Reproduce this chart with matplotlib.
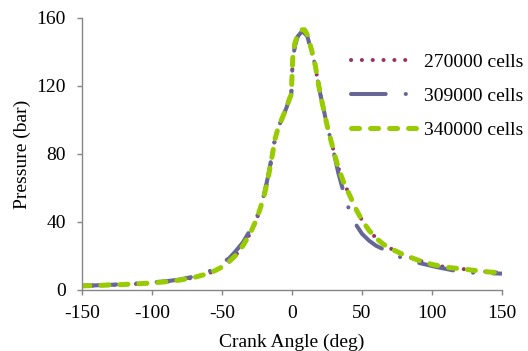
import matplotlib
matplotlib.use("Agg")
import matplotlib.pyplot as plt

# 270000 cells
ang_270 = [-150, -140, -130, -120, -110, -100, -90, -80, -70, -60, -55, -50, -45, -40, -35,
           -30, -25, -20, -17, -15, -12, -10, -7, -4, -2, -0.5, 0, 0.5, 2, 4, 7, 9, 11,
           13, 16, 20, 25, 29, 33, 37, 41, 46, 50, 55, 60, 65, 70, 80, 90, 100, 110,
           120, 130, 140, 150]
p_270 = [2.4, 2.6, 2.9, 3.2, 3.6, 4.1, 4.8, 5.8, 7.3, 9.6, 11.3, 13.5, 16.5, 20.5, 26,
         33, 42, 55, 66, 75, 89, 95, 101, 107, 112, 115, 125, 135, 143, 149, 152, 151, 149,
         143, 134, 116, 97, 84, 72, 63, 56, 47, 41, 35, 30.5, 27, 24.5, 20.5, 17.5, 15, 13.3,
         12.5, 11.5, 10.6, 10]

# 309000 cells
ang_309 = [-150, -140, -130, -120, -110, -100, -90, -80, -70, -60, -55, -50, -45, -40, -35,
           -30, -25, -20, -17, -15, -12, -10, -7, -4, -2, -0.5, 0, 0.5, 2, 4, 7, 9, 11,
           13, 16, 20, 25, 29, 33, 37, 40, 46, 50, 55, 60, 65, 70, 77, 90, 103, 115,
           127, 140, 150]
p_309 = [2.5, 2.7, 3.0, 3.4, 3.9, 4.4, 5.1, 6.1, 7.9, 10.5, 13, 16, 18.5, 23, 28,
         35, 43, 56, 67, 76, 90, 95, 101, 107, 112, 115, 125, 135, 143, 149, 152, 151, 149,
         143, 134, 116, 97, 84, 69, 57, 49, 38, 33, 29, 26, 24, 22, 19.4, 16, 13.5, 11.5,
         10.2, 9.8, 9.6]

# 340000 cells
ang_340 = [-150, -140, -130, -120, -110, -100, -90, -80, -70, -60, -55, -50, -45, -40, -35,
           -30, -25, -20, -17, -15, -12, -10, -7, -4, -2, -0.5, 0, 0.5, 2, 4, 7, 9, 11,
           13, 16, 20, 25, 29, 33, 37, 41, 46, 50, 55, 60, 65, 70, 80, 90, 100, 110,
           120, 130, 140, 150]
p_340 = [2.4, 2.6, 2.9, 3.2, 3.6, 4.1, 4.8, 5.8, 7.3, 9.6, 11.3, 13.5, 16.5, 20.5, 26,
         33, 42, 55, 66, 75, 89, 95, 101, 107, 112, 115, 125, 136, 145, 150, 153, 153, 150,
         144, 135, 116, 97, 84, 72, 63, 56, 47, 41, 35, 30.5, 27, 24.5, 20.5, 17.5, 15, 13.3,
         12.5, 11.5, 10.6, 10]

labels = ["270000 cells", "309000 cells", "340000 cells"]

plt.rcParams["font.family"] = ["Liberation Serif", "DejaVu Serif"]
plt.rcParams["axes.unicode_minus"] = False
plt.rcParams["lines.scale_dashes"] = False
sizee = 14

fig = plt.figure(figsize=(5.28, 3.51), dpi=100)
ax = fig.add_axes([0.155, 0.174, 0.796, 0.775])

ax.plot(ang_270, p_270, color="#993366", lw=2.9, linestyle=(0, (0.1, 7.7)),
        dash_capstyle="round", label=labels[0])
ax.plot(ang_309, p_309, color="#666699", lw=2.9, linestyle=(0, (25, 14.4, 0.1, 14.4)),
        dash_capstyle="round", label=labels[1])
ax.plot(ang_340, p_340, color="#99CC00", lw=3.6, linestyle=(0, (5.8, 7.9)),
        dash_capstyle="round", label=labels[2])

ax.set_xlim(-150, 150)
ax.set_ylim(0, 160)
ax.set_xticks([-150, -100, -50, 0, 50, 100, 150])
ax.set_yticks([0, 40, 80, 120, 160])
ax.tick_params(axis="both", labelsize=sizee, color="#868686", length=3.6, width=1)
ax.tick_params(axis="x", pad=7)
ax.tick_params(axis="y", pad=8)
for s in ["top", "right"]:
    ax.spines[s].set_visible(False)
for s in ["left", "bottom"]:
    ax.spines[s].set_color("#868686")
    ax.spines[s].set_linewidth(1)

ax.set_xlabel("Crank Angle (deg)", size=sizee, labelpad=9)
ax.set_ylabel("Pressure (bar)", size=sizee, labelpad=4)

fig.legend(loc="center left", bbox_to_anchor=(0.665, 0.726), frameon=False,
           fontsize=sizee, handlelength=3.35, handletextpad=0.4, labelspacing=0.83,
           borderpad=0, borderaxespad=0)

fig.savefig("out.png", dpi=100)
